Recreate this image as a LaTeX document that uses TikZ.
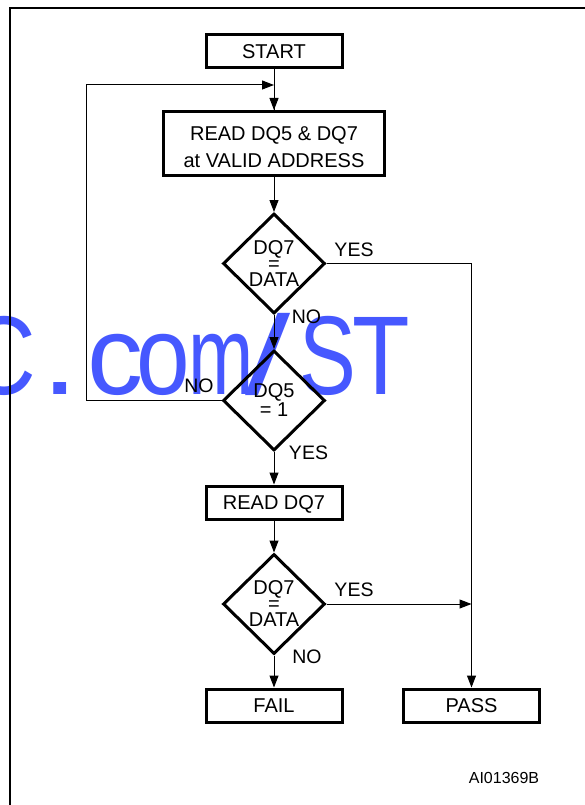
\documentclass[tikz,border=0pt]{standalone}
\usepackage{fontspec}
\setmainfont{Liberation Sans}
\usetikzlibrary{shapes.geometric,arrows.meta}
\definecolor{wmblue}{RGB}{70,88,255}
\tikzset{
  boxnode/.style={draw,line width=3pt,minimum width=136pt,minimum height=33pt,inner sep=0pt,
    text depth=0pt,font=\fontsize{20}{24}\selectfont},
  decnode/.style={draw,diamond,line width=3pt,minimum width=102pt,minimum height=100pt,inner sep=0pt,
    align=center},
  lbl/.style={inner sep=0pt,font=\fontsize{19.5}{24}\selectfont},
  wmchar/.style={anchor=base west,inner sep=0pt,text=wmblue,font=\fontsize{112}{112}\selectfont},
  arr/.style={line width=1pt,-{Triangle[length=12pt,width=9pt]}},
  conn/.style={line width=1pt},
}
\begin{document}
\begin{tikzpicture}[x=1pt,y=-1pt]
\useasboundingbox (0,0) rectangle (584,805);
% watermark (behind)
\foreach \ch/\ox/\sc [count=\i] in {C/-32.7/0.85, ./40.8/1.2, c/87.6/1.0, o/136.6/0.86, m/187.9/0.70, {/}/245/1.45, S/299/0.76, T/351.8/0.84}
  \node[wmchar] (wm\i) at (\ox,394) {\scalebox{\sc}[1]{\ch}};
% frame
\draw[line width=2.2pt] (10,815) -- (10,8) -- (600,8);
% nodes
\node[boxnode] (start) at (274,51.5) {START};
\node[boxnode,minimum width=221pt,minimum height=64pt] (read) at (274,143.5) {};
\node[inner sep=0pt,align=center,font=\fontsize{20}{27}\selectfont] (readtxt) at (274,147.2) {READ DQ5 \& DQ7\\at VALID ADDRESS};
\node[decnode,font=\fontsize{20}{16}\selectfont] (d1) at (274,263.5) {DQ7\\=\\DATA};
\node[decnode,font=\fontsize{20}{19}\selectfont] (d2) at (274,400.5) {DQ5\\= 1};
\node[boxnode] (rd7) at (274,502.5) {READ DQ7};
\node[decnode,font=\fontsize{20}{16}\selectfont] (d3) at (274,604) {DQ7\\=\\DATA};
\node[boxnode] (fail) at (274,705.5) {FAIL};
\node[boxnode] (pass) at (471.5,705.5) {PASS};
% labels
\node[lbl] (yes1) at (354,249.5) {YES};
\node[lbl] (no1) at (306.5,317) {NO};
\node[lbl] (no2) at (199,385.5) {NO};
\node[lbl] (yes2) at (308.5,453) {YES};
\node[lbl] (yes3) at (354,589.5) {YES};
\node[lbl] (no3) at (307,657) {NO};
\node[inner sep=0pt,font=\fontsize{16}{19}\selectfont] (ref) at (504,777.5) {AI01369B};
% coordinates
\coordinate (join) at (274,85);
\coordinate (loopx) at (86,0);
% connectors
\draw[conn] (start.south) -- (read.north);
\draw[arr] (d2.west) -- (loopx |- d2.west) |- (join);
\draw[arr] (join) -- (read.north);
\draw[arr] (read.south) -- (d1.north);
\draw[arr] (d1.south) -- (d2.north);
\draw[arr] (d1.east) -| (pass.north);
\draw[arr] (d2.south) -- (rd7.north);
\draw[arr] (rd7.south) -- (d3.north);
\draw[arr] (d3.east) -- (pass.north |- d3.east);
\draw[arr] (d3.south) -- (fail.north);
\end{tikzpicture}
\end{document}
